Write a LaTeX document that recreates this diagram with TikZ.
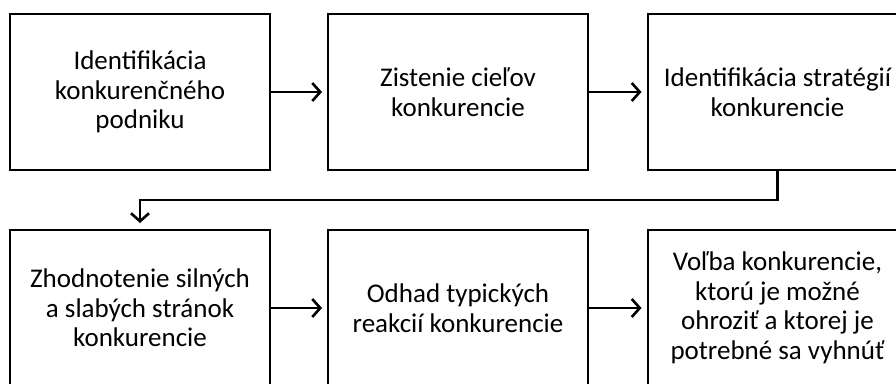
\documentclass[tikz,border=0pt]{standalone}
\usepackage{fontspec}
\setmainfont{Carlito}
\usetikzlibrary{arrows.meta}
\begin{document}
\begin{tikzpicture}[x=1pt,y=-1pt,
  box/.style={draw=black, line width=2pt, minimum width=260pt, minimum height=156pt,
    align=center, inner sep=0pt, font=\fontsize{27}{29.5}\selectfont},
  flow/.style={line width=2.6pt, -{Straight Barb[length=8pt,width=18pt,line width=2.6pt]}},
]
\clip (0,0) rectangle (896,383);
\fill[white] (0,0) rectangle (896,383);
\node[box] (b1) at (140,92) {Identifikácia\\konkurenčného\\podniku};
\node[box] (b2) at (458,92) {Zistenie cieľov\\konkurencie};
\node[box] (b3) at (777.5,92) {Identifikácia stratégií\\konkurencie};
\node[box] (b4) at (140,308) {Zhodnotenie silných\\a slabých stránok\\konkurencie};
\node[box] (b5) at (458,308) {Odhad typických\\reakcií konkurencie};
\node[box] (b6) at (777.5,308) {Voľba konkurencie,\\ktorú je možné\\ohroziť a ktorej je\\potrebné sa vyhnúť};
\draw[flow, shorten >=5pt] (b1) -- (b2);
\draw[flow, shorten >=5pt] (b2) -- (b3);
\draw[flow, shorten >=5pt] (b4) -- (b5);
\draw[flow, shorten >=5pt] (b5) -- (b6);
\draw[flow, shorten >=6pt] (b3.south) -- ++(0,29) -| (b4.north);
\end{tikzpicture}
\end{document}
